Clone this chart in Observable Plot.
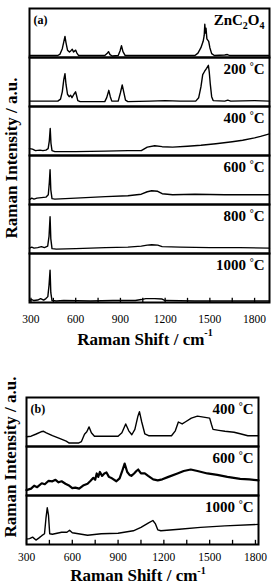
<!DOCTYPE html>
<html><head><meta charset="utf-8">
<script src="https://cdn.jsdelivr.net/npm/d3@7"></script>
<script src="https://cdn.jsdelivr.net/npm/@observablehq/plot@0.6"></script>
<style>
html,body{margin:0;padding:0;background:#fff;}
svg{display:block;}
</style></head><body>
<div id="pa"></div><div id="pb"></div>
<script>
// ---------- data ----------
const tickLabels = [300, 600, 900, 1200, 1500, 1800];
const minorTicks = [300, 450, 600, 750, 900, 1050, 1200, 1350, 1500, 1650, 1800];

const samplesA = ["ZnC2O4", "200 °C", "400 °C", "600 °C", "800 °C", "1000 °C"];
const samplesB = ["400 °C", "600 °C", "1000 °C"];

// panel (a): [Raman shift cm-1, relative intensity]
const specZnC2O4 = [[290,0.04],[480,0.04],[495,0.07],[510,0.18],[520,0.32],[528,0.43],[535,0.30],[545,0.15],[558,0.11],[568,0.14],[577,0.17],[585,0.11],[592,0.13],[600,0.15],[608,0.09],[620,0.04],[795,0.04],[810,0.08],[820,0.12],[830,0.06],[845,0.03],[885,0.04],[898,0.14],[907,0.24],[917,0.12],[932,0.04],[1400,0.04],[1420,0.09],[1440,0.20],[1455,0.33],[1462,0.45],[1466,0.68],[1470,0.50],[1474,0.60],[1480,0.38],[1492,0.33],[1500,0.20],[1512,0.08],[1530,0.04],[1600,0.05],[1617,0.06],[1635,0.04],[1900,0.04]];
const spec200a = [[290,0.11],[480,0.11],[498,0.15],[510,0.30],[520,0.55],[528,0.67],[535,0.45],[545,0.25],[556,0.20],[566,0.23],[575,0.18],[588,0.25],[599,0.30],[606,0.22],[614,0.12],[630,0.10],[795,0.10],[808,0.18],[822,0.33],[832,0.20],[842,0.11],[885,0.11],[900,0.28],[912,0.44],[922,0.30],[934,0.13],[950,0.10],[1100,0.11],[1200,0.12],[1300,0.11],[1405,0.11],[1425,0.18],[1440,0.40],[1452,0.65],[1465,0.72],[1478,0.78],[1490,0.84],[1496,0.70],[1503,0.45],[1512,0.20],[1522,0.12],[1600,0.11],[1620,0.13],[1640,0.11],[1800,0.12],[1900,0.11]];
const spec400a = [[290,0.14],[310,0.13],[330,0.10],[360,0.11],[380,0.10],[400,0.11],[415,0.14],[423,0.30],[429,0.55],[434,0.25],[441,0.10],[460,0.08],[600,0.08],[800,0.09],[950,0.10],[1040,0.10],[1080,0.17],[1130,0.20],[1180,0.18],[1250,0.17],[1350,0.19],[1440,0.21],[1540,0.24],[1650,0.28],[1720,0.31],[1800,0.36],[1840,0.39],[1900,0.44]];
const spec600a = [[290,0.10],[305,0.13],[320,0.11],[340,0.13],[370,0.14],[400,0.15],[416,0.20],[423,0.45],[428,0.71],[433,0.30],[441,0.12],[460,0.11],[600,0.13],[800,0.16],[950,0.18],[1040,0.21],[1080,0.26],[1110,0.28],[1150,0.27],[1180,0.22],[1250,0.20],[1400,0.21],[1600,0.20],[1800,0.20],[1900,0.20]];
const spec800a = [[290,0.11],[305,0.13],[320,0.11],[345,0.12],[370,0.14],[390,0.12],[412,0.15],[421,0.35],[428,0.75],[433,0.30],[441,0.10],[470,0.09],[600,0.10],[800,0.12],[950,0.13],[1040,0.15],[1080,0.17],[1110,0.18],[1150,0.17],[1180,0.14],[1300,0.13],[1500,0.12],[1700,0.12],[1900,0.11]];
const spec1000a = [[290,0.04],[305,0.06],[320,0.04],[345,0.05],[365,0.08],[385,0.05],[400,0.08],[413,0.12],[421,0.35],[428,0.66],[433,0.20],[441,0.04],[470,0.03],[520,0.04],[700,0.03],[850,0.04],[1000,0.04],[1040,0.06],[1070,0.08],[1130,0.08],[1180,0.07],[1200,0.04],[1400,0.03],[1900,0.03]];

// panel (b)
const spec400b = [[300,0.20],[330,0.21],[360,0.25],[395,0.30],[412,0.31],[430,0.28],[470,0.22],[520,0.16],[560,0.11],[580,0.07],[640,0.07],[660,0.10],[680,0.25],[695,0.30],[710,0.40],[725,0.28],[745,0.21],[780,0.21],[900,0.21],[925,0.28],[950,0.46],[970,0.32],[990,0.24],[1010,0.35],[1030,0.62],[1040,0.71],[1055,0.50],[1075,0.26],[1100,0.22],[1250,0.22],[1275,0.32],[1295,0.50],[1320,0.46],[1340,0.50],[1380,0.58],[1420,0.62],[1460,0.60],[1500,0.58],[1512,0.45],[1522,0.35],[1560,0.33],[1600,0.31],[1660,0.29],[1700,0.26],[1750,0.22],[1820,0.22]];
const spec600b = [[300,0.11],[330,0.14],[350,0.20],[370,0.17],[400,0.25],[420,0.23],[445,0.30],[470,0.29],[490,0.32],[510,0.27],[530,0.29],[555,0.24],[575,0.21],[600,0.15],[620,0.16],[645,0.14],[675,0.21],[700,0.24],[720,0.30],[738,0.36],[750,0.32],[760,0.45],[770,0.38],[781,0.48],[795,0.40],[810,0.45],[824,0.47],[840,0.38],[860,0.35],[889,0.29],[910,0.35],[925,0.48],[943,0.65],[960,0.48],[975,0.42],[987,0.40],[1005,0.45],[1020,0.50],[1032,0.53],[1050,0.45],[1075,0.45],[1097,0.40],[1130,0.33],[1160,0.31],[1190,0.33],[1230,0.38],[1289,0.45],[1330,0.50],[1376,0.53],[1420,0.50],[1485,0.45],[1550,0.42],[1616,0.38],[1700,0.34],[1760,0.33],[1820,0.31]];
const spec1000b = [[300,0.11],[320,0.12],[340,0.15],[362,0.09],[380,0.13],[400,0.18],[418,0.22],[428,0.55],[436,0.75],[444,0.60],[452,0.22],[470,0.21],[530,0.25],[565,0.25],[582,0.29],[600,0.24],[640,0.22],[700,0.19],[790,0.22],[900,0.23],[1000,0.28],[1050,0.35],[1100,0.44],[1128,0.49],[1145,0.42],[1160,0.30],[1180,0.28],[1300,0.31],[1440,0.35],[1600,0.38],[1820,0.41]];

// ---------- build tables ----------
const toRows = (s, arr) => arr.map(([x, y]) => ({s, x, y}));
const rowsA = [
  ...toRows(samplesA[0], specZnC2O4), ...toRows(samplesA[1], spec200a),
  ...toRows(samplesA[2], spec400a), ...toRows(samplesA[3], spec600a),
  ...toRows(samplesA[4], spec800a), ...toRows(samplesA[5], spec1000a)
];
const rowsB = [
  ...toRows(samplesB[0], spec400b), ...toRows(samplesB[1], spec600b), ...toRows(samplesB[2], spec1000b)
];

const FONT = "'Liberation Serif', 'Times New Roman', serif";

function panel({rows, samples, domain, tag, height, mt, mb, ml, mr, lineWidths, tickPad}) {
  const last = samples[samples.length - 1];
  return Plot.plot({
    width: 274, height,
    marginTop: mt, marginBottom: mb, marginLeft: ml, marginRight: mr,
    style: {fontFamily: FONT, fontSize: "11.5px", color: "black", background: "white", overflow: "visible"},
    x: {domain, label: null},
    y: {domain: [0, 1], axis: null},
    fy: {domain: samples, padding: 0, axis: null, label: null},
    marks: [
      Plot.line(rows, {x: "x", y: "y", fy: "s", z: "s", stroke: "black",
        strokeWidth: d => lineWidths[d.s] ?? 1.4, strokeLinejoin: "round"}),
      Plot.ruleX(minorTicks, {x: d => d, fy: () => last, y1: 0, y2: 0.085, stroke: "black", strokeWidth: 1.3}),
      Plot.axisX({ticks: tickLabels, tickFormat: d => String(d), tickSize: 0, tickPadding: tickPad, label: null, fontSize: 11.5}),
      Plot.frame({stroke: "black", strokeWidth: 2}),
      Plot.text(samples, {fy: d => d, text: d => d, frameAnchor: "top-right", dx: -5, dy: 6,
        lineAnchor: "top", fontWeight: "bold", fontSize: 15}),
      Plot.text([tag], {fy: () => samples[0], text: d => d, frameAnchor: "top-left", dx: 4, dy: 7,
        lineAnchor: "top", fontWeight: "bold", fontSize: 12})
    ]
  });
}

function richify(svg) {
  d3.select(svg).selectAll("text").each(function () {
    const t = this.textContent;
    const sel = d3.select(this);
    if (t === "ZnC2O4") {
      sel.text(null);
      sel.append("tspan").text("ZnC");
      sel.append("tspan").attr("dy", 4).attr("font-size", 10).text("2");
      sel.append("tspan").attr("dy", -4).text("O");
      sel.append("tspan").attr("dy", 4).attr("font-size", 10).text("4");
    } else if (/ °C$/.test(t)) {
      const num = t.replace(/ °C$/, "");
      sel.text(null);
      sel.append("tspan").text(num + " ");
      sel.append("tspan").attr("dy", -4).attr("font-size", 10).text("°");
      sel.append("tspan").attr("dy", 4).text("C");
    }
  });
}

function addTitles(svg, {xc, xb, yx, yc, supDy}) {
  const s = d3.select(svg);
  const xt = s.append("text").attr("x", xc).attr("y", xb).attr("text-anchor", "middle")
    .attr("font-family", FONT).attr("font-weight", "bold").attr("font-size", 17).attr("fill", "black");
  xt.append("tspan").text("Raman Shift / cm");
  xt.append("tspan").attr("dy", supDy).attr("font-size", 10).text("-1");
  s.append("text").attr("transform", `translate(${yx},${yc}) rotate(-90)`).attr("text-anchor", "middle")
    .attr("font-family", FONT).attr("font-weight", "bold").attr("font-size", 17).attr("fill", "black")
    .text("Raman Intensity / a.u.");
}

const svgA = panel({rows: rowsA, samples: samplesA, domain: [290, 1900], tag: "(a)",
  height: 360, mt: 7, mb: 57, ml: 29, mr: 5, lineWidths: {}, tickPad: 12});
richify(svgA);
addTitles(svgA, {xc: 145, xb: 345, yx: 17, yc: 158, supDy: -9});
document.getElementById("pa").appendChild(svgA);

const svgB = panel({rows: rowsB, samples: samplesB, domain: [300, 1820], tag: "(b)",
  height: 227, mt: 36, mb: 43, ml: 26, mr: 16, lineWidths: {"600 °C": 2.2}, tickPad: 8});
richify(svgB);
addTitles(svgB, {xc: 138, xb: 221, yx: 16, yc: 97, supDy: -7});
document.getElementById("pb").appendChild(svgB);
</script>
</body></html>
